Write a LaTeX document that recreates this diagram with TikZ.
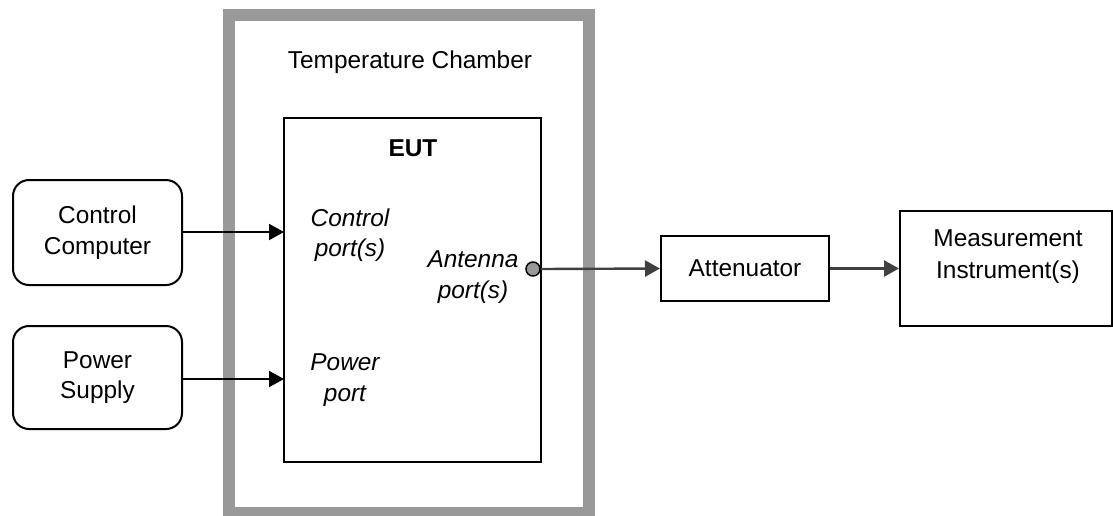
\documentclass[tikz,border=0pt]{standalone}
\usepackage{fontspec}
\setmainfont{Liberation Sans}
\usetikzlibrary{arrows.meta}
\definecolor{chgray}{HTML}{999999}
\definecolor{arrgray}{HTML}{404040}
\begin{document}
\begin{tikzpicture}[x=1pt,y=-1pt,
  txt/.style={font=\fontsize{24.4}{30.5}\selectfont, align=center, inner sep=0pt},
  box/.style={draw=black, line width=2pt},
  rbox/.style={draw=black, line width=2pt, rounded corners=16pt},
  blk/.style={line width=2pt, black, -{Triangle[length=15pt,width=16pt]}},
  gry/.style={line width=2.4pt, arrgray, -{Triangle[length=15pt,width=16pt]}}]
\useasboundingbox (0,0) rectangle (1113,515);
% chamber
\draw[chgray, line width=12pt] (229,14.5) rectangle (589,513);
\node[txt] (tc) at (410,62) {Temperature Chamber};
% EUT
\draw[box] (284,118) rectangle (541,462);
\coordinate (eutL1) at (284,232);
\coordinate (eutL2) at (284,379);
\coordinate (eutR) at (541,269);
\node[txt, font=\fontsize{24.4}{30.5}\selectfont\bfseries] (eut) at (413,148) {EUT};
\node[txt, font=\fontsize{24.4}{30.5}\selectfont\itshape] (cp) at (350,235) {Control\\port(s)};
\node[txt, font=\fontsize{24.4}{30.5}\selectfont\itshape] (ap) at (473,277) {Antenna\\port(s)};
\node[txt, font=\fontsize{24.4}{30.5}\selectfont\itshape] (pp) at (345,380) {Power\\port};
% sources
\node[rbox, minimum width=169pt, minimum height=105pt, txt] (cc) at (97.5,232.5) {Control\\Computer};
\node[rbox, minimum width=169pt, minimum height=103pt, txt] (ps) at (97.5,377.5) {Power\\Supply};
\draw[blk] (cc.east |- eutL1) -- (eutL1);
\draw[blk] (ps.east |- eutL2) -- (eutL2);
% attenuator and instrument
\node[box, minimum width=168pt, minimum height=65pt, txt] (att) at (745,268.5) {Attenuator};
\node[box, minimum width=212pt, minimum height=115pt, txt] (mi) at (1006,268.5) {};
\node[txt, font=\fontsize{24.4}{32}\selectfont] (mit) at (1008,257) {Measurement\\Instrument(s)};
\node[circle, draw=black, line width=1.5pt, fill=chgray, minimum size=14pt, inner sep=0pt] (port) at (533,269) {};
\draw[gry] (port.east) -- (att.west);
\draw[gry] (att.east) -- (mi.west);
\end{tikzpicture}
\end{document}
